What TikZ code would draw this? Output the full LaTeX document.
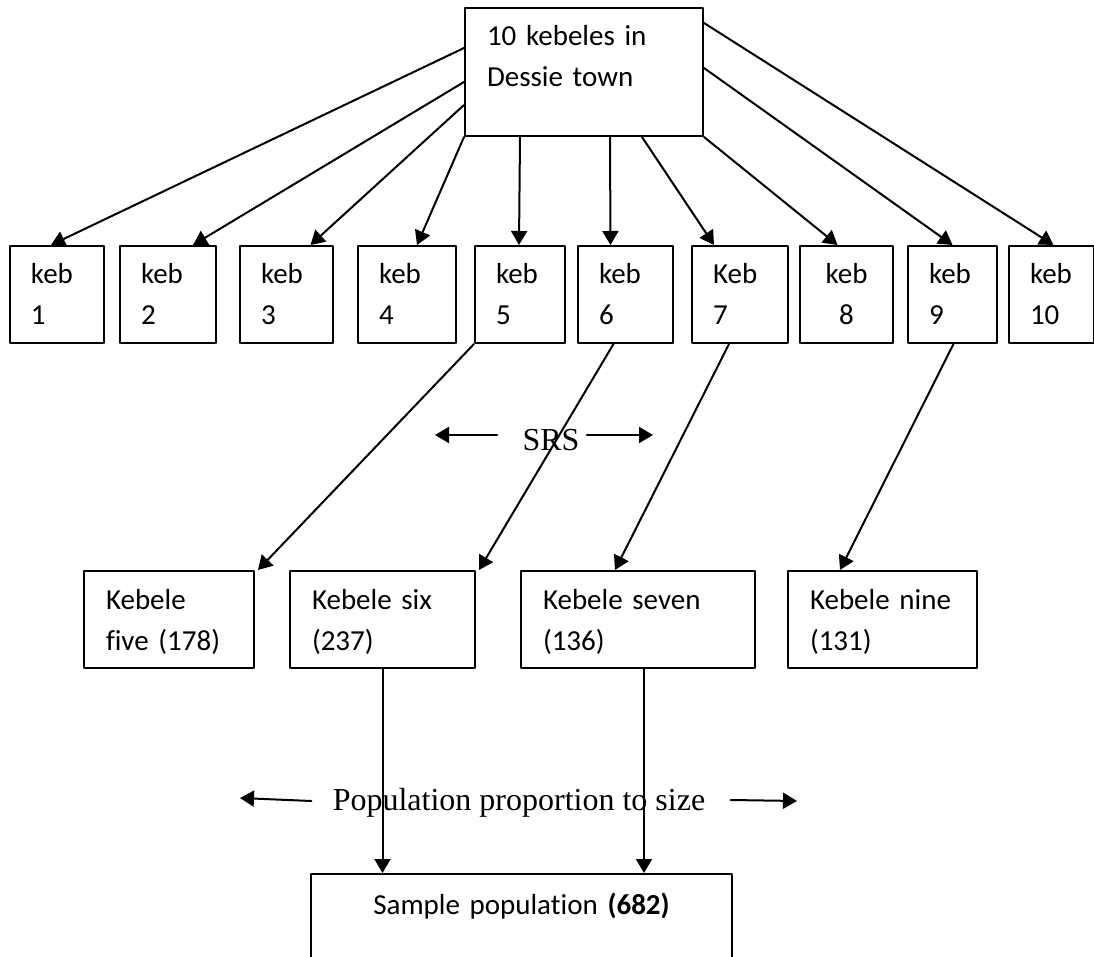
\documentclass[tikz,border=0pt]{standalone}
\usepackage{fontspec}
\setmainfont{Carlito}[Ligatures=NoCommon]
\newfontfamily\timesfont{Liberation Serif}
\usetikzlibrary{arrows.meta}
\usetikzlibrary{calc}
\usetikzlibrary{positioning}

\tikzset{
  arr/.style={-{Triangle[length=7pt,width=8pt]},line width=1pt},
  box/.style={draw,line width=1pt,anchor=north west,inner ysep=0pt,
    font=\fontsize{14.5}{20.5}\selectfont},
  topbox/.style={box,align=left,inner xsep=11pt,text width=97pt,
    text height=19pt,text depth=45pt},
  kebbox/.style={box,inner xsep=10.5pt,text height=19pt,text depth=29.5pt},
  kebelebox/.style={box,align=left,inner xsep=11pt,text height=19.5pt,text depth=29pt},
  lbl/.style={inner sep=0pt,font=\timesfont\fontsize{16}{18}\selectfont}
}

\begin{document}
\begin{tikzpicture}[line cap=round,line join=round,x=0.5pt,y=-0.5pt]
\useasboundingbox (0,0) rectangle (1094,957);
\clip (0,0) rectangle (1094,957);
% top box
\node[topbox] (top) at (464,7) {10 kebeles in\\Dessie town};
% the ten kebeles
\foreach \i/\x/\w/\lab/\al in {1/9/94/keb/left,2/119/96/keb/left,3/239/93/keb/left,
  4/357/98/keb/left,5/474/90/keb/left,6/577/95/keb/left,7/691/96/Keb/left,
  8/799/93/keb/center,9/907/89/keb/left,10/1008/85/keb/left}
{
  \pgfmathsetmacro\tw{(\w-42)/2}
  \node[kebbox,align=\al,text width=\tw pt] (keb\i) at (\x,245) {\lab\\\i};
}
\draw[arr] ($(top.north west)+(0,41)$) -- ($(keb1.north)+(-6,0)$);
\draw[arr] ($(top.north west)+(0,75)$) -- ($(keb2.north)+(25,0)$);
\draw[arr] ($(top.north west)+(0,98)$) -- ($(keb3.north)+(24,0)$);
\draw[arr] (top.south west) -- ($(keb4.north)+(10,0)$);
\draw[arr] ($(top.south west)+(56,0)$) -- ($(keb5.north)+(-1,0)$);
\draw[arr] ($(top.south west)+(146,0)$) -- ($(keb6.north)+(-15,0)$);
\draw[arr] ($(top.south west)+(178,0)$) -- ($(keb7.north)+(-26,0)$);
\draw[arr] (top.south east) -- ($(keb8.north)+(-9,0)$);
\draw[arr] ($(top.north east)+(0,61)$) -- (keb9.north);
\draw[arr] ($(top.north east)+(0,16)$) -- ($(keb10.north)+(2,0)$);
% SRS
\node[lbl] (srs) at (551,440) {SRS};
\coordinate (srsl) at (435,435);
\coordinate (srsr) at (653,435);
\draw[arr] ($(srs.west)+(-25,-5)$) -- (srsl);
\draw[arr] ($(srs.east)+(7,-5)$) -- (srsr);
% selected kebeles
\node[kebelebox,text width=63pt] (five) at (83,570) {Kebele\\five (178)};
\node[kebelebox,text width=70.5pt] (six) at (289,570) {Kebele six\\(237)};
\node[kebelebox,text width=95pt] (seven) at (520,570) {Kebele seven\\(136)};
\node[kebelebox,text width=72.5pt] (nine) at (787,570) {Kebele nine\\(131)};
\draw[arr] (keb5.south west) -- ($(five.north east)+(3,0)$);
\draw[arr] ($(keb6.south)+(-12,0)$) -- ($(six.north east)+(3,0)$);
\draw[arr] ($(keb7.south west)+(38,0)$) -- ($(seven.north west)+(95,0)$);
\draw[arr] ($(keb9.south)+(1,0)$) -- ($(nine.north west)+(53,0)$);
% sample
\node[box,align=center,inner xsep=11pt,text width=188.5pt,text height=20pt,
  text depth=60pt] (sample) at (310,873) {Sample population \textbf{(682)}};
\draw[arr] (six.south) -- (six.south |- sample.north);
\coordinate (s7) at ($(seven.south)+(6,0)$);
\draw[arr] (s7) -- (s7 |- sample.north);
% population proportion to size
\node[lbl] (pps) at (519,803) {Population proportion to size};
\coordinate (ppsl) at (240,798);
\coordinate (ppsr) at (797,801);
\draw[arr] ($(pps.west)+(-21,-2)$) -- (ppsl);
\draw[arr] ($(pps.east)+(25,-3)$) -- (ppsr);
\end{tikzpicture}
\end{document}
